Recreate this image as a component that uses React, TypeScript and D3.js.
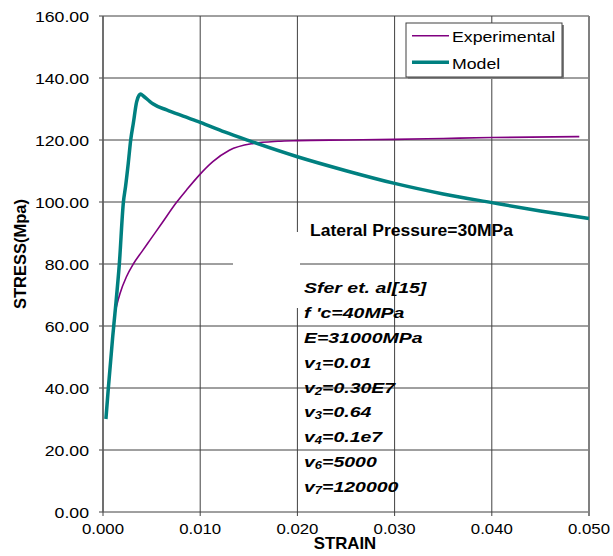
import React from 'react';
import * as d3 from 'd3';

// strain values
const modelStrain = [0.0003, 0.00055, 0.001, 0.00123, 0.00168, 0.0021, 0.00232, 0.0026, 0.00285, 0.00312, 0.00346, 0.00372, 0.00387, 0.00415, 0.00483, 0.00517, 0.00655, 0.00825, 0.010, 0.0125, 0.015, 0.020, 0.025, 0.030, 0.035, 0.040, 0.045, 0.050];
const modelStress = [30, 40, 56.6, 64.1, 80, 100, 105, 112.5, 120, 125.4, 132.3, 134.5, 134.8, 134.2, 132.4, 131.6, 129.7, 127.7, 125.7, 122.6, 119.8, 114.6, 110.1, 106, 102.6, 99.8, 97.1, 94.7];

const expStrain = [0.0011, 0.00123, 0.0014, 0.00175, 0.0024, 0.00312, 0.004, 0.00483, 0.006, 0.00757, 0.0086, 0.010, 0.0113, 0.013, 0.0155, 0.018, 0.020, 0.025, 0.030, 0.035, 0.040, 0.049];
const expStress = [61, 64, 66.5, 70.5, 75.8, 80, 84, 87.7, 92.9, 99.9, 103.9, 109, 113, 116.7, 118.9, 119.6, 119.8, 120, 120.2, 120.5, 120.8, 121.1];

const xTicks = [0, 0.01, 0.02, 0.03, 0.04, 0.05];
const yTicks = [0, 20, 40, 60, 80, 100, 120, 140, 160];

const seriesNames = ['Experimental', 'Model'];
const seriesColors = ['#800080', '#008080'];

const noteTitle = 'Lateral Pressure=30MPa';
// [main, subscript, rest]
const noteLines: [string, string, string][] = [
  ['Sfer et. al[15]', '', ''],
  ["f 'c=40MPa", '', ''],
  ['E=31000MPa', '', ''],
  ['v', '1', '=0.01'],
  ['v', '2', '=0.30E7'],
  ['v', '3', '=0.64'],
  ['v', '4', '=0.1e7'],
  ['v', '6', '=5000'],
  ['v', '7', '=120000'],
];

const font = 'Arial, "Liberation Sans", sans-serif';

const App: React.FC = () => {
  const left = 103, right = 589, top = 16, bottom = 512;
  const x = d3.scaleLinear().domain([0, 0.05]).range([left, right]);
  const y = d3.scaleLinear().domain([0, 160]).range([bottom, top]);

  const line = d3.line<[number, number]>()
    .x(d => x(d[0]))
    .y(d => y(d[1]))
    .curve(d3.curveMonotoneX);

  const model = modelStrain.map((s, i) => [s, modelStress[i]] as [number, number]);
  const exp = expStrain.map((s, i) => [s, expStress[i]] as [number, number]);

  return (
    <svg width={613} height={556} style={{ position: 'absolute', left: 0, top: 0, background: '#fff' }} fontFamily={font}>
      <rect width={613} height={556} fill="#fff" />

      {/* grid */}
      {yTicks.map(t => (
        <line key={'gy' + t} x1={left - 4} x2={right} y1={y(t)} y2={y(t)} stroke="#404040" strokeWidth={1} />
      ))}
      {xTicks.map(t => (
        <line key={'gx' + t} x1={x(t)} x2={x(t)} y1={top} y2={bottom + 4}
          stroke={t === 0.05 ? '#808080' : '#404040'} strokeWidth={t === 0.05 ? 2 : 1} />
      ))}
      <line x1={left} x2={left} y1={top} y2={bottom} stroke="#606060" strokeWidth={1.5} />

      {/* white box behind the note */}
      <rect x={233} y={232} width={67} height={76} fill="#fff" />

      {/* series */}
      <path d={line(exp) || ''} fill="none" stroke={seriesColors[0]} strokeWidth={1.6} />
      <path d={line(model) || ''} fill="none" stroke={seriesColors[1]} strokeWidth={3.5} strokeLinejoin="round" />

      {/* y tick labels */}
      {yTicks.map(t => (
        <text key={'ly' + t} transform={`translate(89,${y(t) + 5.5}) scale(1.18,1)`} textAnchor="end" fontSize={15} fill="#000">
          {t.toFixed(2)}
        </text>
      ))}
      {/* x tick labels */}
      {xTicks.map(t => (
        <text key={'lx' + t} transform={`translate(${x(t)},534) scale(1.12,1)`} textAnchor="middle" fontSize={15} fill="#000">
          {t.toFixed(3)}
        </text>
      ))}

      {/* axis titles */}
      <text transform="translate(26,254) rotate(-90)" textAnchor="middle" fontSize={16.5} fontWeight="bold">STRESS(Mpa)</text>
      <text transform="translate(345,549) scale(1.05,1)" textAnchor="middle" fontSize={16} fontWeight="bold">STRAIN</text>

      {/* notes */}
      <text transform="translate(310,236) scale(1.095,1)" fontSize={16} fontWeight="bold">{noteTitle}</text>
      {noteLines.map((l, i) => (
        <text key={'n' + i} transform={`translate(304,${293.3 + i * 24.8}) scale(1.3,1)`} fontSize={15} fontWeight="bold" fontStyle="italic">
          {l[0]}
          {l[1] && <tspan fontSize={10} dy={2}>{l[1]}</tspan>}
          {l[2] && <tspan dy={l[1] ? -2 : 0}>{l[2]}</tspan>}
        </text>
      ))}

      {/* legend */}
      <rect x={408} y={25} width={156} height={54} fill="#808080" />
      <rect x={406} y={23} width={156} height={54} fill="#fff" stroke="#404040" strokeWidth={1} />
      {seriesNames.map((n, i) => (
        <g key={n}>
          <line x1={412} x2={449} y1={35.7 + i * 26.6} y2={35.7 + i * 26.6} stroke={seriesColors[i]} strokeWidth={i === 0 ? 1.6 : 3.5} />
          <text transform={`translate(452,${42 + i * 26.6}) scale(1.18,1)`} fontSize={15}>{n}</text>
        </g>
      ))}
    </svg>
  );
};

export default App;
